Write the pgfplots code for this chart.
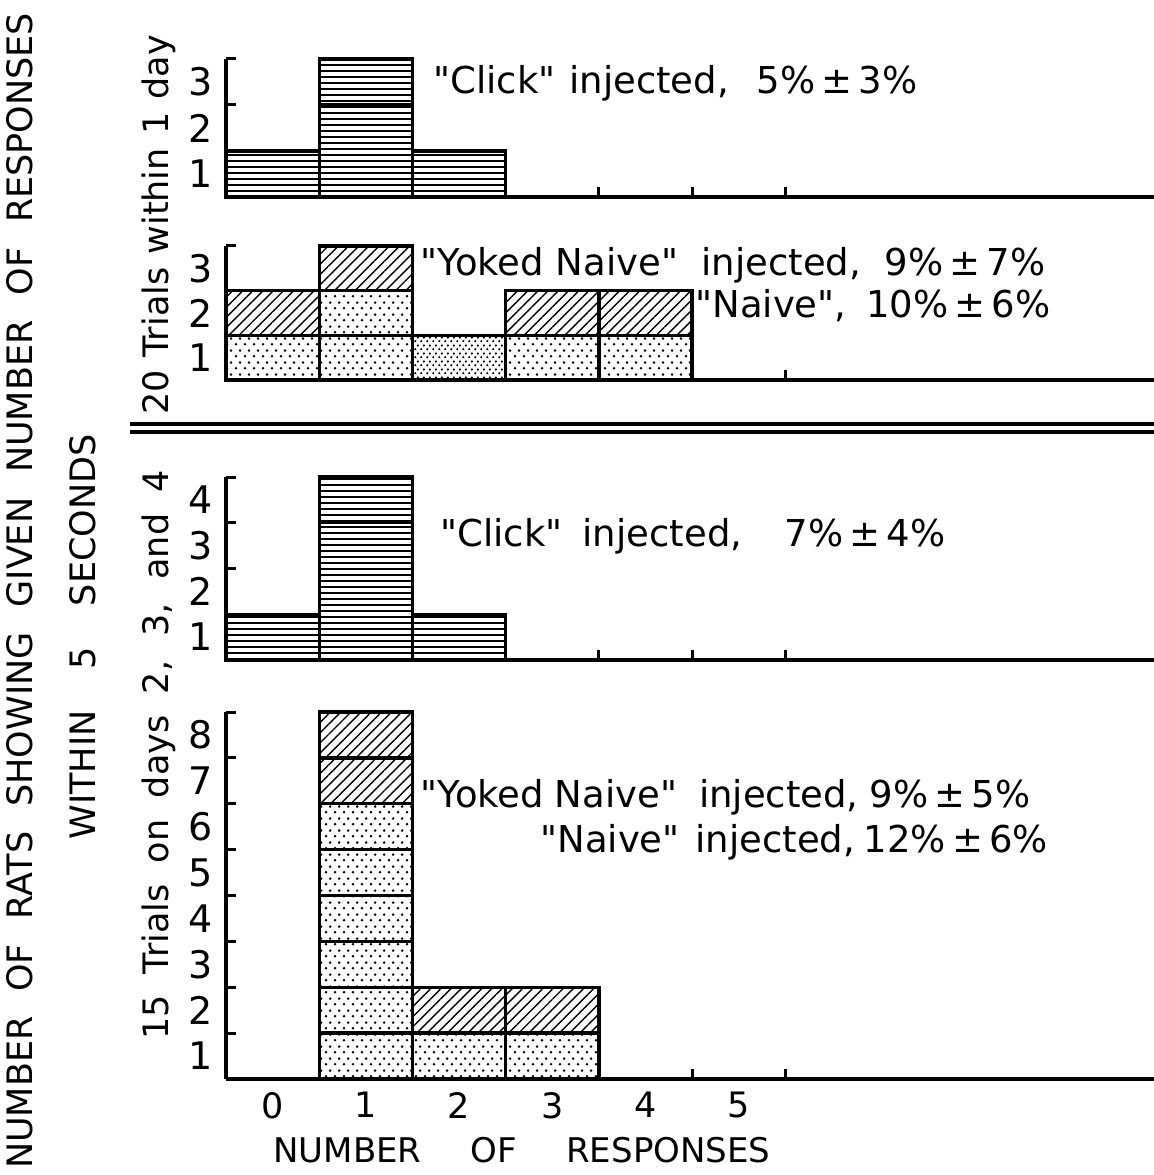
\documentclass[border=0pt]{standalone}
\usepackage{fontspec}
\setmainfont{DejaVu Sans}[Ligatures=TeXOff]
\usepackage{pgfplots}
\pgfplotsset{compat=1.18}
\usetikzlibrary{patterns.meta}

\tikzdeclarepattern{
  name=sparsedots, type=uncolored,
  bounding box={(0,0) and (4.5pt,6pt)},
  tile size={(4.5pt,6pt)},
  code={
    \fill (1.125pt,1.5pt) circle (0.75pt);
    \fill (3.375pt,4.5pt) circle (0.75pt);
  }
}
\tikzdeclarepattern{
  name=densedots, type=uncolored,
  bounding box={(0,0) and (3pt,4pt)},
  tile size={(3pt,4pt)},
  code={
    \fill (0.75pt,1pt) circle (0.68pt);
    \fill (2.25pt,3pt) circle (0.68pt);
  }
}

\tikzset{
  bx/.style={draw=black, line width=1.7pt},
  hl/.style={bx, pattern={Lines[angle=0,distance=3pt,line width=1pt]}, pattern color=black},
  hatch/.style={bx, pattern={Lines[angle=45,distance=3.6pt,line width=0.7pt]}, pattern color=black},
  sdots/.style={bx, pattern=sparsedots, pattern color=black},
  ddots/.style={bx, pattern=densedots, pattern color=black},
}

\pgfplotsset{
  panel/.style={
    scale only axis, width=464pt,
    xmin=-0.5, xmax=9.457, ymin=0,
    axis x line*=bottom, axis y line*=left,
    axis line style={line width=1.8pt,-},
    ybar stacked, bar width=1,
    clip=false,
    tick align=inside,
    major tick length=0pt,
    tick style={line width=1.5pt, black},
    xtick=\empty,
    extra x ticks={3.5,4.5,5.5}, extra x tick labels={},
    extra x tick style={major tick length=5pt},
    extra y tick labels={},
    extra y tick style={major tick length=5pt},
    yticklabel style={font=\fontsize{19}{19}\selectfont, xshift=-3pt},
    xticklabel style={font=\fontsize{17.5}{17.5}\selectfont, yshift=-3pt},
  }
}

\begin{document}
\begin{tikzpicture}
\path[use as bounding box] (0,0) rectangle (577pt,587.5pt);

% Panel 1
\begin{axis}[panel, at={(113pt,489pt)}, anchor=south west, height=69pt, ymax=3,
  ytick={0.5,1.5,2.5}, yticklabels={1,2,3}, extra y ticks={1,2,3}]
\addplot[hl] coordinates {(0,1) (1,2) (2,1)};
\addplot[hl] coordinates {(0,0) (1,1) (2,0)};
\end{axis}

% Panel 2
\begin{axis}[panel, at={(113pt,397.5pt)}, anchor=south west, height=67pt, ymax=3,
  ytick={0.5,1.5,2.5}, yticklabels={1,2,3}, extra y ticks={1,2,3}]
\addplot[sdots] coordinates {(0,1) (1,1) (2,0) (3,1) (4,1)};
\addplot[ddots] coordinates {(0,0) (1,0) (2,1) (3,0) (4,0)};
\addplot[sdots] coordinates {(0,0) (1,1) (2,0) (3,0) (4,0)};
\addplot[hatch] coordinates {(0,1) (1,1) (2,0) (3,1) (4,1)};
\end{axis}

% Panel 3
\begin{axis}[panel, at={(113pt,257.5pt)}, anchor=south west, height=91.5pt, ymax=4,
  ytick={0.5,1.5,2.5,3.5}, yticklabels={1,2,3,4}, extra y ticks={1,2,3,4}]
\addplot[hl] coordinates {(0,1) (1,3) (2,1)};
\addplot[hl] coordinates {(0,0) (1,1) (2,0)};
\end{axis}

% Panel 4
\begin{axis}[panel, at={(113pt,48pt)}, anchor=south west, height=183.5pt, ymax=8,
  ytick={0.5,1.5,...,7.5}, yticklabels={1,2,3,4,5,6,7,8}, extra y ticks={1,2,...,8},
  xtick={0,1,2,3,4,5}, xticklabels={0,1,2,3,4,5}]
\addplot[sdots] coordinates {(1,1) (2,1) (3,1)};
\addplot[sdots] coordinates {(1,1) (2,0) (3,0)};
\addplot[sdots] coordinates {(1,1) (2,0) (3,0)};
\addplot[sdots] coordinates {(1,1) (2,0) (3,0)};
\addplot[sdots] coordinates {(1,1) (2,0) (3,0)};
\addplot[sdots] coordinates {(1,1) (2,0) (3,0)};
\addplot[hatch] coordinates {(1,1) (2,1) (3,1)};
\addplot[hatch] coordinates {(1,1) (2,0) (3,0)};
\end{axis}

% double separator line
\draw[line width=1.6pt] (65pt,375.5pt) -- (577pt,375.5pt);
\draw[line width=1.6pt] (65pt,371.5pt) -- (577pt,371.5pt);

% annotations
\begin{scope}[every node/.style={inner sep=0pt, font=\fontsize{18.5}{18.5}\selectfont}]
\node[anchor=base west] at (216.5pt,540.5pt) {\makebox[242pt][s]{"Click" injected, \ 5\%\,±\,3\%}};
\node[anchor=base west] at (210pt,449.5pt) {\makebox[312.5pt][s]{"Yoked Naive" \ injected, \ 9\%\,±\,7\%}};
\node[anchor=base west] at (347.5pt,428.5pt) {\makebox[177.5pt][s]{"Naive", \ 10\%\,±\,6\%}};
\node[anchor=base west] at (220pt,314pt) {\makebox[252.5pt][s]{"Click" injected, \ 7\%\,±\,4\%}};
\node[anchor=base west] at (210pt,183.5pt) {\makebox[305pt][s]{"Yoked Naive" \ injected, 9\%\,±\,5\%}};
\node[anchor=base west] at (270pt,161pt) {\makebox[252.5pt][s]{"Naive" \ injected, 12\%\,±\,6\%}};
% x label
\node[anchor=base west, font=\fontsize{17}{17}\selectfont] at (136.5pt,6pt) {\makebox[248.5pt][s]{NUMBER OF RESPONSES}};
% rotated labels
\node[rotate=90, anchor=base, font=\fontsize{17.5}{17.5}\selectfont] at (16.5pt,292pt) {\makebox[578pt][s]{NUMBER OF RATS SHOWING GIVEN NUMBER OF RESPONSES}};
\node[rotate=90, anchor=base, font=\fontsize{17.5}{17.5}\selectfont] at (48pt,269pt) {\makebox[202.5pt][s]{WITHIN 5 SECONDS}};
\node[rotate=90, anchor=base, font=\fontsize{17.5}{17.5}\selectfont] at (84pt,475pt) {\makebox[190pt][s]{20 Trials within 1 day}};
\node[rotate=90, anchor=base, font=\fontsize{17.5}{17.5}\selectfont] at (84pt,210pt) {\makebox[285pt][s]{15 Trials on days 2, 3, and 4}};
\end{scope}
\end{tikzpicture}
\end{document}
